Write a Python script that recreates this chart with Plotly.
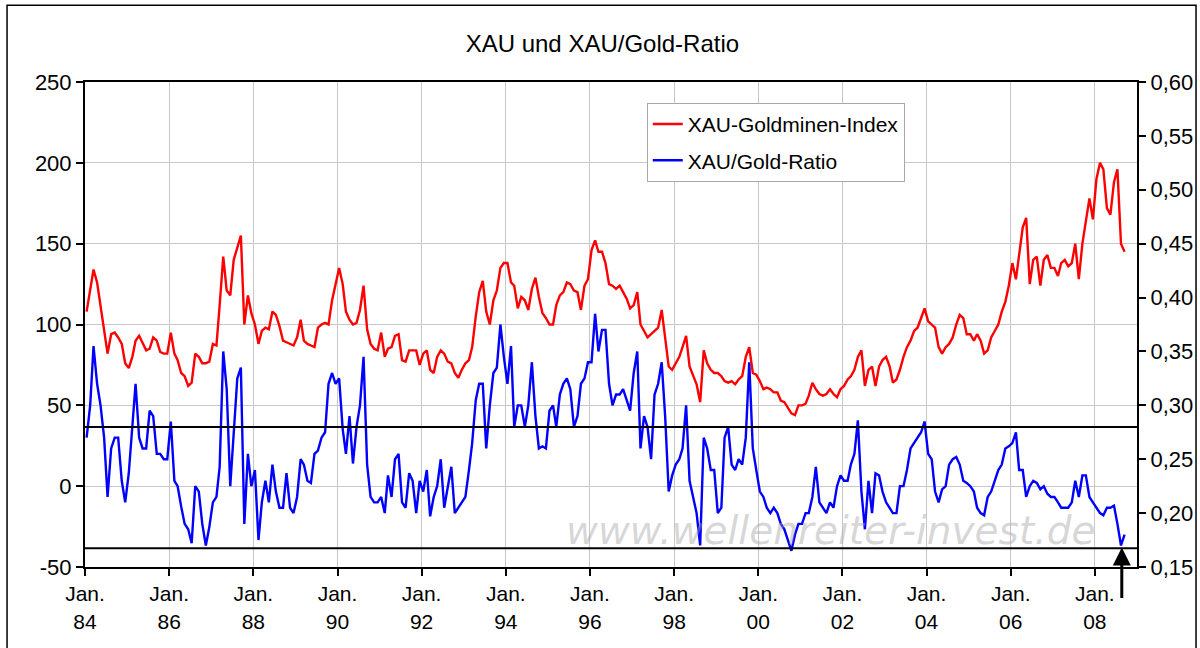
import pandas as pd
import plotly.graph_objects as go

# ---------------- data (monthly readings, Jan 1984 - Sep 2008) ----------------
start_month = "1984-01-01"

xau_index = [
    108, 122, 134, 126, 112, 97, 82, 94, 95, 92, 88, 76,        # 1984
    73, 80, 90, 93, 88, 84, 85, 92, 90, 83, 82, 82,             # 1985
    95, 82, 78, 70, 68, 62, 64, 82, 80, 76, 76, 77,             # 1986
    88, 87, 112, 142, 121, 118, 140, 148, 155, 100, 118, 107,   # 1987
    100, 88, 96, 98, 97, 108, 106, 99, 90, 89, 88, 87,          # 1988
    92, 103, 90, 88, 87, 86, 98, 100, 101, 100, 115, 124,       # 1989
    135, 125, 108, 103, 100, 101, 109, 124, 97, 88, 85, 84,     # 1990
    95, 80, 85, 86, 93, 94, 78, 77, 84, 84, 84, 75,             # 1991
    82, 84, 72, 70, 80, 84, 82, 77, 76, 70, 67, 72,             # 1992
    76, 78, 86, 105, 120, 127, 108, 100, 115, 121, 135, 138,    # 1993
    138, 126, 124, 110, 117, 115, 109, 122, 129, 117, 107, 104, # 1994
    100, 100, 112, 118, 120, 126, 125, 121, 120, 109, 124, 128, # 1995
    146, 152, 145, 145, 138, 125, 124, 122, 124, 120, 116, 110, # 1996
    112, 120, 100, 96, 92, 94, 96, 98, 109, 90, 74, 72,         # 1997
    76, 80, 86, 93, 74, 68, 63, 52, 84, 76, 72, 70,             # 1998
    70, 68, 65, 64, 65, 63, 66, 68, 80, 86, 70, 69,             # 1999
    65, 60, 61, 60, 58, 58, 53, 52, 48, 45, 44, 50,             # 2000
    50, 51, 56, 64, 60, 57, 56, 57, 60, 57, 55, 60,             # 2001
    62, 66, 68, 72, 80, 84, 62, 72, 74, 62, 74, 78,             # 2002
    80, 74, 64, 66, 72, 80, 86, 90, 96, 98, 104, 110,           # 2003
    102, 100, 98, 86, 82, 86, 88, 92, 100, 106, 104, 94,        # 2004
    94, 90, 94, 90, 82, 84, 92, 96, 100, 108, 114, 124,         # 2005
    138, 128, 145, 160, 166, 125, 140, 142, 124, 140, 143, 135, # 2006
    135, 130, 138, 140, 136, 138, 150, 128, 150, 165, 178, 165, # 2007
    190, 200, 196, 172, 168, 188, 196, 150, 145,                # 2008
]

xau_gold_ratio = [
    0.27, 0.30, 0.355, 0.32, 0.30, 0.27, 0.215, 0.26, 0.27, 0.27, 0.23, 0.21,
    0.237, 0.283, 0.32, 0.27, 0.26, 0.26, 0.295, 0.29, 0.255, 0.255, 0.25, 0.25,
    0.285, 0.23, 0.225, 0.206, 0.19, 0.185, 0.172, 0.225, 0.22, 0.19, 0.17, 0.187,
    0.21, 0.215, 0.243, 0.35, 0.315, 0.225, 0.27, 0.325, 0.335, 0.19, 0.255, 0.225,
    0.24, 0.175, 0.21, 0.23, 0.21, 0.245, 0.22, 0.205, 0.205, 0.237, 0.205, 0.2,
    0.215, 0.25, 0.245, 0.23, 0.228, 0.255, 0.258, 0.27, 0.275, 0.32, 0.33, 0.32,
    0.325, 0.278, 0.255, 0.29, 0.246, 0.28, 0.30, 0.345, 0.245, 0.215, 0.21, 0.21,
    0.215, 0.2, 0.235, 0.215, 0.25, 0.255, 0.21, 0.205, 0.237, 0.23, 0.2, 0.23,
    0.22, 0.24, 0.197, 0.215, 0.225, 0.25, 0.205, 0.225, 0.243, 0.2, 0.205, 0.21,
    0.215, 0.24, 0.265, 0.305, 0.32, 0.32, 0.26, 0.3, 0.33, 0.335, 0.375, 0.345,
    0.32, 0.355, 0.28, 0.3, 0.3, 0.28, 0.3, 0.34, 0.29, 0.26, 0.262, 0.26,
    0.295, 0.3, 0.28, 0.31, 0.32, 0.325, 0.315, 0.28, 0.29, 0.32, 0.325, 0.34,
    0.34, 0.385, 0.35, 0.37, 0.37, 0.32, 0.30, 0.31, 0.31, 0.315, 0.305, 0.295,
    0.33, 0.35, 0.26, 0.29, 0.28, 0.25, 0.31, 0.32, 0.34, 0.29, 0.22, 0.235,
    0.245, 0.25, 0.26, 0.3, 0.23, 0.215, 0.2, 0.17, 0.27, 0.26, 0.24, 0.24,
    0.2, 0.205, 0.27, 0.28, 0.245, 0.24, 0.25, 0.245, 0.27, 0.34, 0.26, 0.24,
    0.22, 0.215, 0.205, 0.2, 0.205, 0.2, 0.19, 0.185, 0.175, 0.165, 0.18, 0.19,
    0.19, 0.2, 0.2, 0.215, 0.243, 0.21, 0.205, 0.2, 0.21, 0.205, 0.225, 0.235,
    0.23, 0.23, 0.245, 0.255, 0.286, 0.22, 0.185, 0.23, 0.2, 0.237, 0.235, 0.22,
    0.21, 0.205, 0.2, 0.2, 0.225, 0.225, 0.24, 0.26, 0.265, 0.27, 0.275, 0.285,
    0.255, 0.25, 0.22, 0.21, 0.222, 0.225, 0.245, 0.25, 0.252, 0.245, 0.23, 0.228,
    0.225, 0.22, 0.205, 0.2, 0.198, 0.215, 0.22, 0.23, 0.24, 0.245, 0.26, 0.262,
    0.265, 0.275, 0.24, 0.24, 0.215, 0.225, 0.23, 0.228, 0.222, 0.225, 0.218, 0.215,
    0.215, 0.21, 0.205, 0.205, 0.205, 0.21, 0.23, 0.215, 0.235, 0.235, 0.215, 0.21,
    0.205, 0.2, 0.198, 0.205, 0.205, 0.207, 0.19, 0.17, 0.18,
]

x_tick_dates = ["1984-01-01", "1986-01-01", "1988-01-01", "1990-01-01", "1992-01-01",
                "1994-01-01", "1996-01-01", "1998-01-01", "2000-01-01", "2002-01-01",
                "2004-01-01", "2006-01-01", "2008-01-01"]
x_tick_labels = ["Jan.<br>84", "Jan.<br>86", "Jan.<br>88", "Jan.<br>90", "Jan.<br>92",
                 "Jan.<br>94", "Jan.<br>96", "Jan.<br>98", "Jan.<br>00", "Jan.<br>02",
                 "Jan.<br>04", "Jan.<br>06", "Jan.<br>08"]
y_left_ticks = [-50, 0, 50, 100, 150, 200, 250]
y_left_labels = ["-50", "0", "50", "100", "150", "200", "250"]

ratio_upper_level = 0.28
ratio_lower_level = 0.1675
arrow_date = "2008-08-22"
arrow_ratio = 0.168

# ---------------- figure ----------------
dates = pd.date_range(start_month, periods=len(xau_index), freq="MS") + pd.Timedelta(days=14)

FONT = "Liberation Sans, Arial, sans-serif"

fig = go.Figure()
fig.add_trace(go.Scatter(x=dates, y=xau_index, name="XAU-Goldminen-Index", legendgroup="a",
                         mode="lines", line=dict(color="#ff0000", width=2.4), yaxis="y"))
fig.add_trace(go.Scatter(x=dates, y=xau_gold_ratio, name="XAU/Gold-Ratio", legendgroup="b",
                         mode="lines", line=dict(color="#0000ff", width=2.4), yaxis="y2"))

shapes = [
    dict(type="line", xref="paper", x0=0, x1=1, yref="y2", y0=ratio_upper_level, y1=ratio_upper_level,
         line=dict(color="black", width=2)),
    dict(type="line", xref="paper", x0=0, x1=1, yref="y2", y0=ratio_lower_level, y1=ratio_lower_level,
         line=dict(color="black", width=2)),
    # outer chart frame
    dict(type="rect", xref="paper", yref="paper", x0=-0.0741, x1=1.0561, y0=-0.4, y1=1.158,
         line=dict(color="black", width=1.5), fillcolor="rgba(0,0,0,0)", layer="below"),
]

annotations = [
    dict(x=arrow_date, y=arrow_ratio, xref="x", yref="y2", text="", showarrow=True,
         ax=0, ay=52, arrowhead=2, arrowsize=1.2, arrowwidth=3, arrowcolor="black"),
    dict(x=0.709, y=0.075, xref="paper", yref="paper", text="www.wellenreiter-invest.de",
         showarrow=False, font=dict(family="DejaVu Sans", size=39, color="rgba(165,165,165,0.45)", style="italic"),
         xanchor="center", yanchor="middle"),
]

fig.update_layout(
    width=1200, height=648,
    margin=dict(l=85, r=63, t=82, b=81, autoexpand=False),
    paper_bgcolor="white", plot_bgcolor="white",
    font=dict(family=FONT, size=21, color="black"),
    separators=",.",
    title=dict(text="XAU und XAU/Gold-Ratio", x=0.502, xanchor="center", y=1 - 44 / 648,
               yanchor="middle", yref="container", font=dict(family=FONT, size=24, color="black")),
    showlegend=True,
    legend=dict(x=0.534, y=0.957, xanchor="left", yanchor="top", bgcolor="white",
                bordercolor="#a8a8a8", borderwidth=1, tracegroupgap=6,
                font=dict(family=FONT, size=21, color="black")),
    xaxis=dict(type="date", range=["1984-01-01", "2009-01-01"], tickvals=x_tick_dates,
               ticktext=x_tick_labels, showgrid=True, gridcolor="#c8c8c8", gridwidth=1,
               showline=True, linecolor="black", linewidth=2, mirror=True,
               ticks="outside", ticklen=7, tickcolor="black", tickwidth=1.5, zeroline=False,
               tickfont=dict(size=21)),
    yaxis=dict(range=[-50, 250], tickvals=y_left_ticks, ticktext=y_left_labels,
               showgrid=True, gridcolor="#c8c8c8", gridwidth=1, zeroline=False,
               showline=True, linecolor="black", linewidth=2,
               ticks="outside", ticklen=7, tickcolor="black", tickwidth=1.5,
               tickfont=dict(size=22)),
    yaxis2=dict(range=[0.15, 0.60], dtick=0.05, tick0=0.15, tickformat=".2f", overlaying="y",
                side="right", showgrid=False, zeroline=False, showline=True, linecolor="black",
                linewidth=2, ticks="outside", ticklen=7, tickcolor="black", tickwidth=1.5,
                tickfont=dict(size=22)),
    shapes=shapes,
    annotations=annotations,
)

fig.write_html("out.html", config={"displayModeBar": False},
               post_script="document.body.style.margin='0';")
